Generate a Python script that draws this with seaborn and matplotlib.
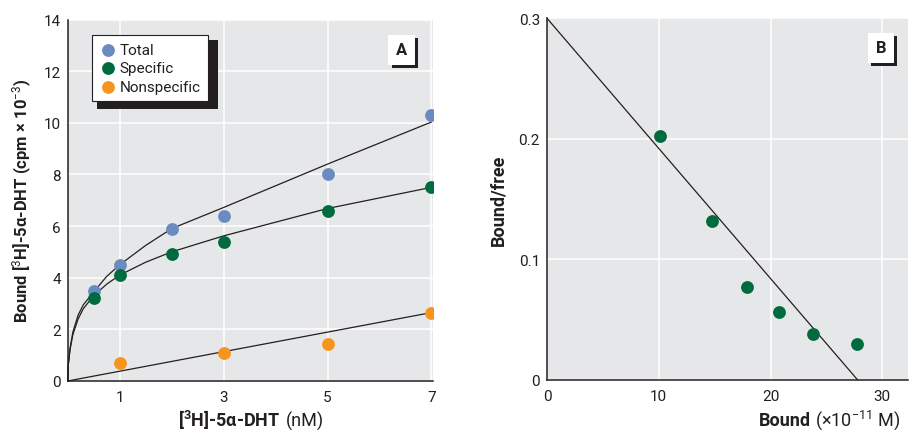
import numpy as np
import pandas as pd
import matplotlib
matplotlib.use("Agg")
import matplotlib.pyplot as plt
import seaborn as sns
from matplotlib import patheffects as pe
from matplotlib.patches import Rectangle
from matplotlib.transforms import IdentityTransform

# ---------------- data (panel A) ----------------
conc = [0.5, 1, 2, 3, 5, 7]
total = [3.5, 4.5, 5.9, 6.4, 8.0, 10.3]
specific = [3.2, 4.1, 4.9, 5.4, 6.6, 7.5]
nonspec_conc = [1, 3, 5, 7]
nonspec = [0.7, 1.1, 1.45, 2.65]

fit_x = [0, 0.01, 0.044, 0.1, 0.2, 0.3, 0.4, 0.5, 0.75, 1, 1.5, 2, 3, 5, 7]
fit_total = [0, 0.6, 1.25, 1.9, 2.55, 2.95, 3.2, 3.45, 4.05, 4.5, 5.25, 5.9, 6.72, 8.4, 10.03]
fit_specific = [0, 0.6, 1.2, 1.8, 2.4, 2.8, 3.05, 3.3, 3.75, 4.1, 4.6, 5.0, 5.62, 6.68, 7.5]
fit_nonspec_x = [0, 7]
fit_nonspec = [0, 2.65]

a_xticks = [1, 3, 5, 7]
a_yticks = [0, 2, 4, 6, 8, 10, 12, 14]

# ---------------- data (panel B) ----------------
bound = [10.1, 14.8, 17.9, 20.8, 23.8, 27.7]
bound_free = [0.202, 0.132, 0.077, 0.056, 0.038, 0.030]
scat_fit_x = [0, 27.8]
scat_fit_y = [0.3, 0.0]

b_xticks = [0, 10, 20, 30]
b_yticks = [0, 0.1, 0.2, 0.3]
b_yticklabels = ["0", "0.1", "0.2", "0.3"]

# ---------------- style ----------------
BG = "#e6e7e8"
INK = "#231f20"
C_TOTAL = "#6a8bbf"
C_SPEC = "#006b3f"
C_NON = "#f7941d"

sns.set_style("darkgrid", {"axes.facecolor": BG, "grid.color": "white"})
FONT = ["Roboto", "DejaVu Sans"]
plt.rcParams["font.family"] = FONT
plt.rcParams["mathtext.fontset"] = "custom"
plt.rcParams["mathtext.rm"] = "Roboto"
plt.rcParams["mathtext.bf"] = "Roboto:bold"
plt.rcParams["mathtext.it"] = "Roboto:italic"

fig = plt.figure(figsize=(9.09, 4.31), dpi=100)
fig.patch.set_facecolor("white")
W, H = 909, 431
axA = fig.add_axes([67.7 / W, (H - 382) / H, (433 - 67.7) / W, (382 - 20.5) / H])
axB = fig.add_axes([547 / W, (H - 381) / H, (908 - 547) / W, (381 - 19.3) / H])


def style_axes(ax):
    for s in ["top", "right"]:
        ax.spines[s].set_visible(False)
    for s in ["left", "bottom"]:
        ax.spines[s].set_visible(True)
        ax.spines[s].set_color(INK)
        ax.spines[s].set_linewidth(1.1)
    ax.grid(True, color="white", linewidth=1.1)
    ax.set_axisbelow(True)
    ax.tick_params(axis="both", length=0, labelsize=11, labelcolor=INK)
    ax.tick_params(axis="x", pad=6.5)
    ax.tick_params(axis="y", pad=5)
    ax.set_xlabel("")
    ax.set_ylabel("")


# ---------------- panel A ----------------
ms = 85
sns.lineplot(x=fit_x, y=fit_total, ax=axA, color=INK, linewidth=0.9, estimator=None, sort=False, label="_nolegend_", legend=False)
sns.lineplot(x=fit_x, y=fit_specific, ax=axA, color=INK, linewidth=0.9, estimator=None, sort=False, label="_nolegend_", legend=False)
sns.lineplot(x=fit_nonspec_x, y=fit_nonspec, ax=axA, color=INK, linewidth=0.9, estimator=None, sort=False, label="_nolegend_", legend=False)
sns.scatterplot(x=conc, y=total, ax=axA, color=C_TOTAL, s=ms, linewidth=0, label="Total", zorder=3)
sns.scatterplot(x=conc, y=specific, ax=axA, color=C_SPEC, s=ms, linewidth=0, label="Specific", zorder=3)
sns.scatterplot(x=nonspec_conc, y=nonspec, ax=axA, color=C_NON, s=ms, linewidth=0, label="Nonspecific", zorder=3)

style_axes(axA)
axA.set_xlim(0, 7.03)
axA.set_ylim(0, 14)
axA.set_xticks(a_xticks)
axA.set_yticks(a_yticks)
for l in axA.lines:
    l.set_clip_on(False)

leg = axA.legend(loc="upper left", bbox_to_anchor=(0.0665, 0.957), borderaxespad=0,
                 frameon=True, fancybox=False, framealpha=1, edgecolor=INK,
                 facecolor="white", fontsize=11, handletextpad=0.2, labelspacing=0.3,
                 borderpad=0.5, handlelength=1.1)
leg.get_frame().set_linewidth(0.8)
for t in leg.get_texts():
    t.set_color(INK)

# axis labels A
axA.text(-0.125, 0.5, "Bound [$^{3}$H]-5α-DHT (cpm × 10$^{-3}$)", transform=axA.transAxes,
         rotation=90, ha="center", va="center", fontsize=12, fontweight="bold", color=INK)
axA.text(0.583, -0.124, "[$\\mathbf{^{3}}$H]-5α-DHT", transform=axA.transAxes,
         ha="right", va="baseline", fontsize=13, fontweight="bold", color=INK)
axA.text(0.597, -0.124, "(nM)", transform=axA.transAxes,
         ha="left", va="baseline", fontsize=13, color=INK)

# ---------------- panel B ----------------
sns.lineplot(x=scat_fit_x, y=scat_fit_y, ax=axB, color=INK, linewidth=0.9, estimator=None, sort=False, label="_nolegend_", legend=False)
sns.scatterplot(x=bound, y=bound_free, ax=axB, color=C_SPEC, s=ms, linewidth=0, zorder=3, legend=False)
style_axes(axB)
axB.set_xlim(0, 32.3)
axB.set_ylim(0, 0.3)
axB.set_xticks(b_xticks)
axB.set_yticks(b_yticks)
axB.set_yticklabels(b_yticklabels)
for l in axB.lines:
    l.set_clip_on(False)

axB.text(-0.135, 0.5, "Bound/free", transform=axB.transAxes, rotation=90,
         ha="center", va="center", fontsize=13, fontweight="bold", color=INK)
axB.text(0.730, -0.125, "Bound", transform=axB.transAxes, ha="right", va="baseline",
         fontsize=13, fontweight="bold", color=INK)
axB.text(0.742, -0.125, "(×10$^{-11}$ M)", transform=axB.transAxes, ha="left", va="baseline",
         fontsize=13, color=INK)

# ---------------- panel tags ----------------
for ax, tag, (x, y) in [(axA, "A", (0.914, 0.916)), (axB, "B", (0.925, 0.919))]:
    t = ax.text(x, y, tag, transform=ax.transAxes, ha="center", va="center",
                fontsize=12, fontweight="bold", color=INK, zorder=6,
                bbox=dict(boxstyle="square,pad=0.45", fc="white", ec="none"))
    t.get_bbox_patch().set_path_effects([
        pe.SimplePatchShadow(offset=(2.2, -2.2), shadow_rgbFace=INK, alpha=1),
        pe.Normal()])

# legend shadow
fig.canvas.draw()
bb = leg.get_window_extent()
shadow = Rectangle((bb.x0 + 5, bb.y0 - 8), bb.width + 5, bb.height + 3,
                   transform=IdentityTransform(), facecolor=INK, edgecolor="none",
                   zorder=4.9, clip_on=False)
axA.add_patch(shadow)

fig.savefig("out.png", dpi=100)
